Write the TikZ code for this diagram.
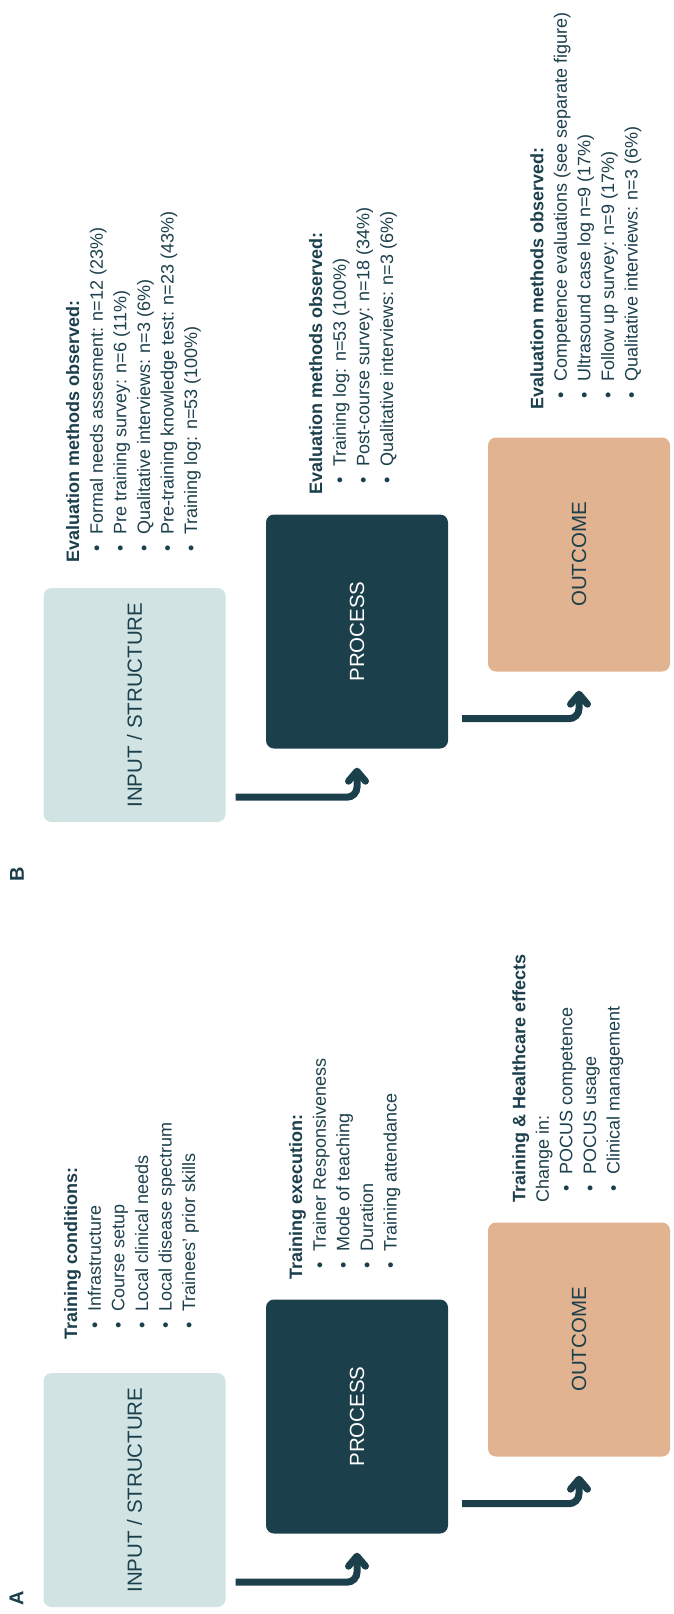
\documentclass[tikz,border=0pt]{standalone}
\usepackage{fontspec}
\setmainfont{Liberation Sans}
\usetikzlibrary{arrows.meta,calc}
\definecolor{darkteal}{HTML}{1C3F4C}
\definecolor{lightteal}{HTML}{D1E4E3}
\definecolor{peach}{HTML}{E2B390}
\newcommand{\blt}{\makebox[28pt][l]{\hspace{11pt}\textbullet}}
\tikzset{
    stagebox/.style={rotate=90, minimum width=234pt, minimum height=182pt, inner sep=0pt,
        rounded corners=8pt, font=\fontsize{20.5}{24}\selectfont},
    notes/.style={rotate=90, anchor=north west, align=left, inner sep=0pt, text=darkteal,
        font=\fontsize{18}{23.6}\selectfont},
    panel/.style={rotate=90, text=darkteal, font=\fontsize{20}{24}\selectfont\bfseries},
    flow/.style={draw=darkteal, line width=7pt, rounded corners=10pt, shorten >=19pt,
        -{Straight Barb[length=10pt, width=17pt, round]}}
}
\begin{document}
\begin{tikzpicture}[x=1pt, y=-1pt]
            \useasboundingbox (0,0) rectangle (673,1614);

            % panel A
            \node[panel] (labA) at (16.5,1598) {A};
            \node[stagebox, fill=lightteal, text=darkteal] (inA) at (134.5,1490) {INPUT / STRUCTURE};
            \node[stagebox, fill=darkteal, text=white] (prA) at (357,1416.5) {PROCESS};
            \node[stagebox, fill=peach, text=darkteal] (outA) at (579,1339.5) {OUTCOME};

            \node[notes] (condA) at (64,1340) {\textbf{Training conditions:}\\
                \blt Infrastructure\\ \blt Course setup\\ \blt Local clinical needs\\
                \blt Local disease spectrum\\ \blt Trainees' prior skills};
            \node[notes] (execA) at (289,1280) {\textbf{Training execution:}\\
                \blt Trainer Responsiveness\\ \blt Mode of teaching\\ \blt Duration\\
                \blt Training attendance};
            \node[notes] (effA) at (512,1203) {\textbf{Training \& Healthcare effects}\\
                Change in:\\ \blt POCUS competence\\ \blt POCUS usage\\
                \blt Clinical management};

            \draw[flow] ($(inA.south west)+(10,-25)$) -| (prA.west);
            \draw[flow] ($(prA.south west)+(14,-30)$) -| (outA.west);

            % panel B
            \node[panel] (labB) at (17,874) {B};
            \node[stagebox, fill=lightteal, text=darkteal] (inB) at (134.5,705) {INPUT / STRUCTURE};
            \node[stagebox, fill=darkteal, text=white] (prB) at (357,631.5) {PROCESS};
            \node[stagebox, fill=peach, text=darkteal] (outB) at (579,554.5) {OUTCOME};

            \node[notes] (evalinB) at (66,563) {\textbf{Evaluation methods observed:}\\
                \blt Formal needs assesment: n=12 (23\%)\\ \blt Pre training survey: n=6 (11\%)\\
                \blt Qualitative interviews: n=3 (6\%)\\
                \blt Pre-training knowledge test: n=23 (43\%)\\ \blt Training log: n=53 (100\%)};
            \node[notes] (evalprB) at (309,495) {\textbf{Evaluation methods observed:}\\
                \blt Training log: n=53 (100\%)\\ \blt Post-course survey: n=18 (34\%)\\
                \blt Qualitative interviews: n=3 (6\%)};
            \node[notes] (evaloutB) at (530,410) {\textbf{Evaluation methods observed:}\\
                \blt Competence evaluations (see separate figure)\\
                \blt Ultrasound case log n=9 (17\%)\\ \blt Follow up survey: n=9 (17\%)\\
                \blt Qualitative interviews: n=3 (6\%)};

            \draw[flow] ($(inB.south west)+(10,-25)$) -| (prB.west);
            \draw[flow] ($(prB.south west)+(14,-30)$) -| (outB.west);
        \end{tikzpicture}
\end{document}
